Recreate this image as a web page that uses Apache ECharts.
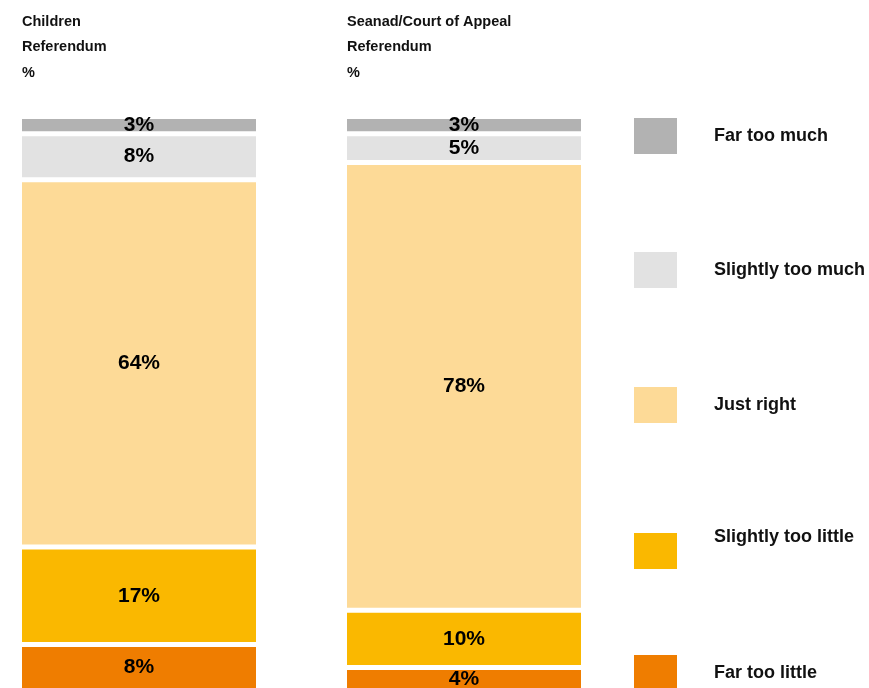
<!DOCTYPE html>
<html>
<head>
<meta charset="utf-8">
<script src="https://cdn.jsdelivr.net/npm/echarts@6/dist/echarts.min.js"></script>
<style>
html,body{margin:0;padding:0;background:#fff;}
#main{width:869px;height:688px;}
</style>
</head>
<body>
<div id="main"></div>
<script>
const panels = ['Children\nReferendum\n%', 'Seanad/Court of Appeal\nReferendum\n%'];
const categories = ['Children Referendum', 'Seanad/Court of Appeal Referendum'];
const seriesNames = ['Far too little', 'Slightly too little', 'Just right', 'Slightly too much', 'Far too much'];
const farTooLittle = [8, 4];
const slightlyTooLittle = [17, 10];
const justRight = [64, 78];
const slightlyTooMuch = [8, 5];
const farTooMuch = [3, 3];
const legendOrder = ['Far too much', 'Slightly too much', 'Just right', 'Slightly too little', 'Far too little'];

const values = [farTooLittle, slightlyTooLittle, justRight, slightlyTooMuch, farTooMuch];
const colors = ['#EF7D00', '#FAB800', '#FDDA97', '#E2E2E2', '#B2B2B2'];

// layout constants
const gridLefts = [19.5, 344.5];
const legendTops = [118, 252, 387, 524, 655];
const legendRaise = [false, false, false, true, false];

const chart = echarts.init(document.getElementById('main'));

const series = [];
categories.forEach((cat, gi) => {
  seriesNames.forEach((name, si) => {
    series.push({
      name: name,
      type: 'bar',
      stack: 'total' + gi,
      xAxisIndex: gi,
      yAxisIndex: gi,
      barWidth: 239,
      data: [values[si][gi]],
      itemStyle: { color: colors[si], borderColor: '#ffffff', borderWidth: 2.5 },
      label: {
        show: true,
        position: 'inside',
        formatter: '{c}%',
        color: '#000',
        fontFamily: 'Liberation Sans, Arial, sans-serif',
        fontWeight: 'bold',
        fontSize: 21
      },
      emphasis: { disabled: true }
    });
  });
});

chart.setOption({
  animation: false,
  title: panels.map((t, i) => ({
    text: t,
    left: [22, 347][i],
    top: 9,
    padding: 0,
    textStyle: {
      fontFamily: 'Liberation Sans, Arial, sans-serif',
      fontWeight: 'bold',
      fontSize: 14.5,
      lineHeight: 25.5,
      color: '#111'
    }
  })),
  legend: legendOrder.map((name, i) => ({
    data: [name],
    orient: 'vertical',
    left: 634,
    top: legendTops[i],
    padding: 0,
    itemWidth: 43,
    itemHeight: 36,
    icon: 'rect',
    itemStyle: { borderWidth: 0 },
    selectedMode: false,
    formatter: legendRaise[i] ? (n => n + '\n ') : (n => n),
    textStyle: {
      fontFamily: 'Liberation Sans, Arial, sans-serif',
      fontWeight: 'bold',
      fontSize: 18,
      lineHeight: legendRaise[i] ? 27 : 20,
      color: '#111',
      padding: [0, 0, 0, 32]
    }
  })),
  grid: gridLefts.map(l => ({ left: l, width: 239, top: 116.5, height: 574, outerBoundsMode: 'none', containLabel: false })),
  xAxis: categories.map((c, i) => ({ type: 'category', gridIndex: i, data: [c], show: false })),
  yAxis: categories.map((c, i) => ({ type: 'value', gridIndex: i, min: 0, max: 100, show: false })),
  series: series
});
</script>
</body>
</html>
